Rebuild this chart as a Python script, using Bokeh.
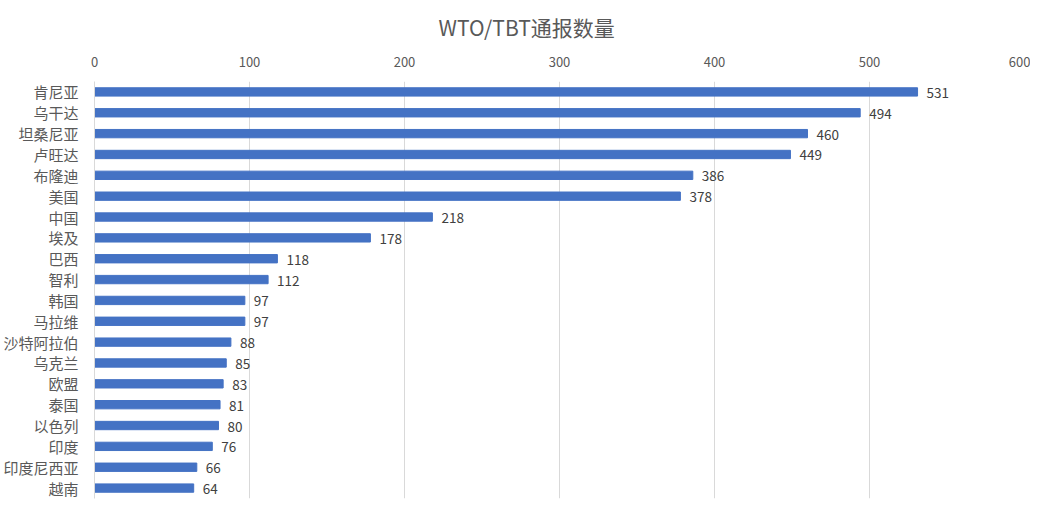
from bokeh.plotting import figure
from bokeh.models import ColumnDataSource, Range1d, FixedTicker
from bokeh.core.properties import value
from bokeh.embed import file_html
from bokeh.resources import INLINE

countries = ["肯尼亚", "乌干达", "坦桑尼亚", "卢旺达", "布隆迪", "美国", "中国", "埃及", "巴西", "智利",
             "韩国", "马拉维", "沙特阿拉伯", "乌克兰", "欧盟", "泰国", "以色列", "印度", "印度尼西亚", "越南"]
counts = [531, 494, 460, 449, 386, 378, 218, 178, 118, 112, 97, 97, 88, 85, 83, 81, 80, 76, 66, 64]
x_ticks = [0, 100, 200, 300, 400, 500, 600]

FONT = "Noto Sans CJK SC"

src = ColumnDataSource(dict(c=countries, v=counts, lab=[str(v) for v in counts]))

p = figure(width=1030, height=499, y_range=list(reversed(countries)), x_range=Range1d(0, 600),
           output_backend="svg", toolbar_location=None, x_axis_location="above",
           min_border_left=93, min_border_right=6, min_border_top=81, min_border_bottom=1)
p.outline_line_color = None

p.title.text = "WTO/TBT通报数量"
p.title.align = "left"
p.title.vertical_align = "top"
p.title.offset = 344
p.title.standoff = 20
p.title.text_font = FONT
p.title.text_font_size = "21px"
p.title.text_font_style = "normal"
p.title.text_color = "#595959"

p.hbar(y="c", right="v", height=0.4, source=src, color="#4472C4")
p.text(x="v", y="c", text="lab", source=src, x_offset=9, y_offset=1, text_baseline="middle",
       text_align="left", text_font=value(FONT), text_font_size="13.5px", text_color="#404040")

xa = p.xaxis[0]
xa.ticker = FixedTicker(ticks=x_ticks)
xa.axis_line_color = None
xa.major_tick_line_color = None
xa.minor_tick_line_color = None
xa.major_label_text_font = FONT
xa.major_label_text_font_size = "13px"
xa.major_label_text_color = "#595959"
xa.major_label_standoff = 9

ya = p.yaxis[0]
ya.axis_line_color = "#d9d9d9"
ya.major_tick_line_color = None
ya.minor_tick_line_color = None
ya.major_label_text_font = FONT
ya.major_label_text_font_size = "15px"
ya.major_label_text_color = "#595959"
ya.major_label_standoff = 10

p.xgrid.grid_line_color = "#d9d9d9"
p.ygrid.grid_line_color = None

open("out.html", "w").write(file_html(p, INLINE))
